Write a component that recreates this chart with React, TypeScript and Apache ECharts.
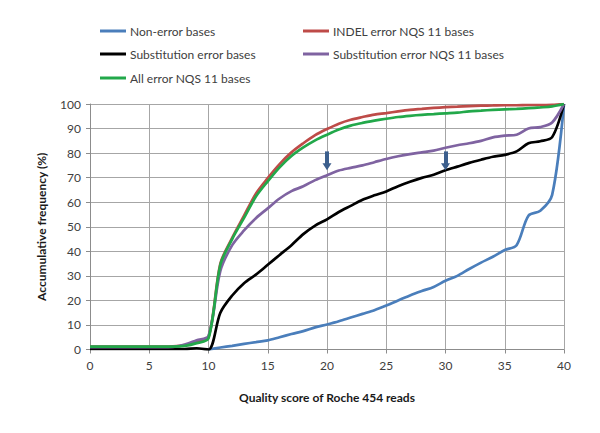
import React, { useEffect, useRef } from "react";
import * as echarts from "echarts";

const qualityScores = [0,1,2,3,4,5,6,7,8,9,10,11,12,13,14,15,16,17,18,19,20,21,22,23,24,25,26,27,28,29,30,31,32,33,34,35,36,37,38,39,40];

const nonError = [null,null,null,null,null,null,null,null,null,null,0,0.8,1.5,2.3,3,3.7,5,6.3,7.5,9,10.2,11.5,13,14.5,16,17.9,20,22,23.8,25.5,28,30,32.8,35.4,37.8,40.5,42.5,54.5,56.5,63,100];
const indelNqs = [1.2,1.2,1.2,1.2,1.2,1.2,1.2,1.3,1.8,3.2,5,35,45.5,54.5,63.5,69.8,75.5,80.3,84,87.3,89.8,92,93.6,94.7,95.7,96.3,97,97.6,98,98.4,98.7,98.9,99.1,99.3,99.4,99.5,99.5,99.6,99.6,99.7,100];
const substitution = [0.2,0.2,0.2,0.2,0.2,0.2,0.2,0.2,0.2,0.5,0,15,22,27,30.5,34.5,38.5,42.5,47,50.5,53,56,58.5,61,62.8,64.4,66.5,68.3,69.9,71.2,73,74.5,76,77.3,78.5,79.3,80.7,84,84.8,86.5,100];
const substitutionNqs = [1,1,1,1,1,1,1,1.1,2,3.8,5.5,32,42.5,48.5,53.5,57.5,61.5,64.5,66.5,69,71,72.9,74,75,76.3,77.6,78.7,79.6,80.3,81,82.2,83.2,84,85,86.4,87.1,87.5,90,90.6,92.5,100];
const allErrorNqs = [1.2,1.2,1.2,1.2,1.2,1.2,1.2,1.2,1.5,2.6,4.5,34.5,45,53.6,62.3,68.5,74.2,78.8,82.3,85.2,87.5,89.6,91.2,92.3,93.2,94,94.7,95.2,95.6,95.9,96.2,96.5,97,97.3,97.6,97.8,98,98.3,98.6,99,100];

const arrowXs = [20, 30];
const arrowFrom = 80.7;
const arrowTo = 74.4;

const seriesNames = [
  "Non-error bases",
  "INDEL error NQS 11 bases",
  "Substitution error bases",
  "Substitution error NQS 11 bases",
  "All error NQS 11 bases",
];
const seriesValues = [nonError, indelNqs, substitution, substitutionNqs, allErrorNqs];
const seriesColors = ["#4a7ebb", "#be4b48", "#000000", "#7f63a1", "#22a84a"];

const FONT = "Lato";

export default function App() {
  const ref = useRef<HTMLDivElement>(null);
  useEffect(() => {
    if (!ref.current) return;
    const chart = echarts.init(ref.current, undefined, { renderer: "svg" });

    const legendPos = [
      { left: 100, top: 25 },
      { left: 303, top: 25 },
      { left: 100, top: 48 },
      { left: 303, top: 48 },
      { left: 100, top: 72 },
    ];

    const series: any[] = seriesNames.map((name, i) => ({
      name,
      type: "line",
      data: qualityScores.map((x, j) => [x, seriesValues[i][j]]),
      showSymbol: false,
      smooth: 0.3,
      connectNulls: false,
      lineStyle: { color: seriesColors[i], width: 2.7 },
      itemStyle: { color: seriesColors[i] },
    }));

    series.push({
      name: "arrows",
      type: "line",
      data: [],
      markLine: {
        silent: true,
        animation: false,
        symbol: ["none", "triangle"],
        symbolSize: [9, 7],
        label: { show: false },
        lineStyle: { color: "#3c5f8d", width: 4, type: "solid" },
        data: arrowXs.map((x) => [{ coord: [x, arrowFrom] }, { coord: [x, arrowTo] }]),
      },
    });

    chart.setOption({
      animation: false,
      backgroundColor: "#ffffff",
      textStyle: { fontFamily: FONT },
      legend: seriesNames.map((name, i) => ({
        data: [{ name, icon: "rect" }],
        left: legendPos[i].left,
        top: legendPos[i].top,
        padding: 0,
        itemWidth: 26,
        itemHeight: 3,
        itemGap: 4,
        selectedMode: false,
        textStyle: { fontFamily: FONT, fontSize: 12, color: "#404040", padding: [0, 0, 0, -1] },
      })),
      grid: { left: 90, right: 36, top: 104, bottom: 83.5, containLabel: false },
      xAxis: {
        type: "value",
        min: 0,
        max: 40,
        interval: 5,
        name: "Quality score of Roche 454 reads",
        nameLocation: "middle",
        nameGap: 42,
        nameTextStyle: { fontFamily: FONT, fontSize: 12, fontWeight: "bold", color: "#1a1a1a" },
        axisLine: { show: true, lineStyle: { color: "#8c8c8c", width: 1 } },
        axisTick: { show: true, length: 4, lineStyle: { color: "#8c8c8c" } },
        axisLabel: { fontFamily: FONT, fontSize: 12, color: "#404040", margin: 10 },
        splitLine: { show: true, lineStyle: { color: "#a6a6a6", width: 1 } },
      },
      yAxis: {
        type: "value",
        min: 0,
        max: 100,
        interval: 10,
        name: "Accumulative frequency (%)",
        nameLocation: "middle",
        nameGap: 43,
        nameTextStyle: { fontFamily: FONT, fontSize: 12, fontWeight: "bold", color: "#1a1a1a" },
        axisLine: { show: true, lineStyle: { color: "#8c8c8c", width: 1 } },
        axisTick: { show: true, length: 4, lineStyle: { color: "#8c8c8c" } },
        axisLabel: { fontFamily: FONT, fontSize: 12, color: "#404040", margin: 9 },
        splitLine: { show: true, lineStyle: { color: "#a6a6a6", width: 1 } },
      },
      series,
    });
    return () => chart.dispose();
  }, []);
  return <div ref={ref} style={{ width: 600, height: 433, position: "absolute", left: 0, top: 0 }} />;
}
